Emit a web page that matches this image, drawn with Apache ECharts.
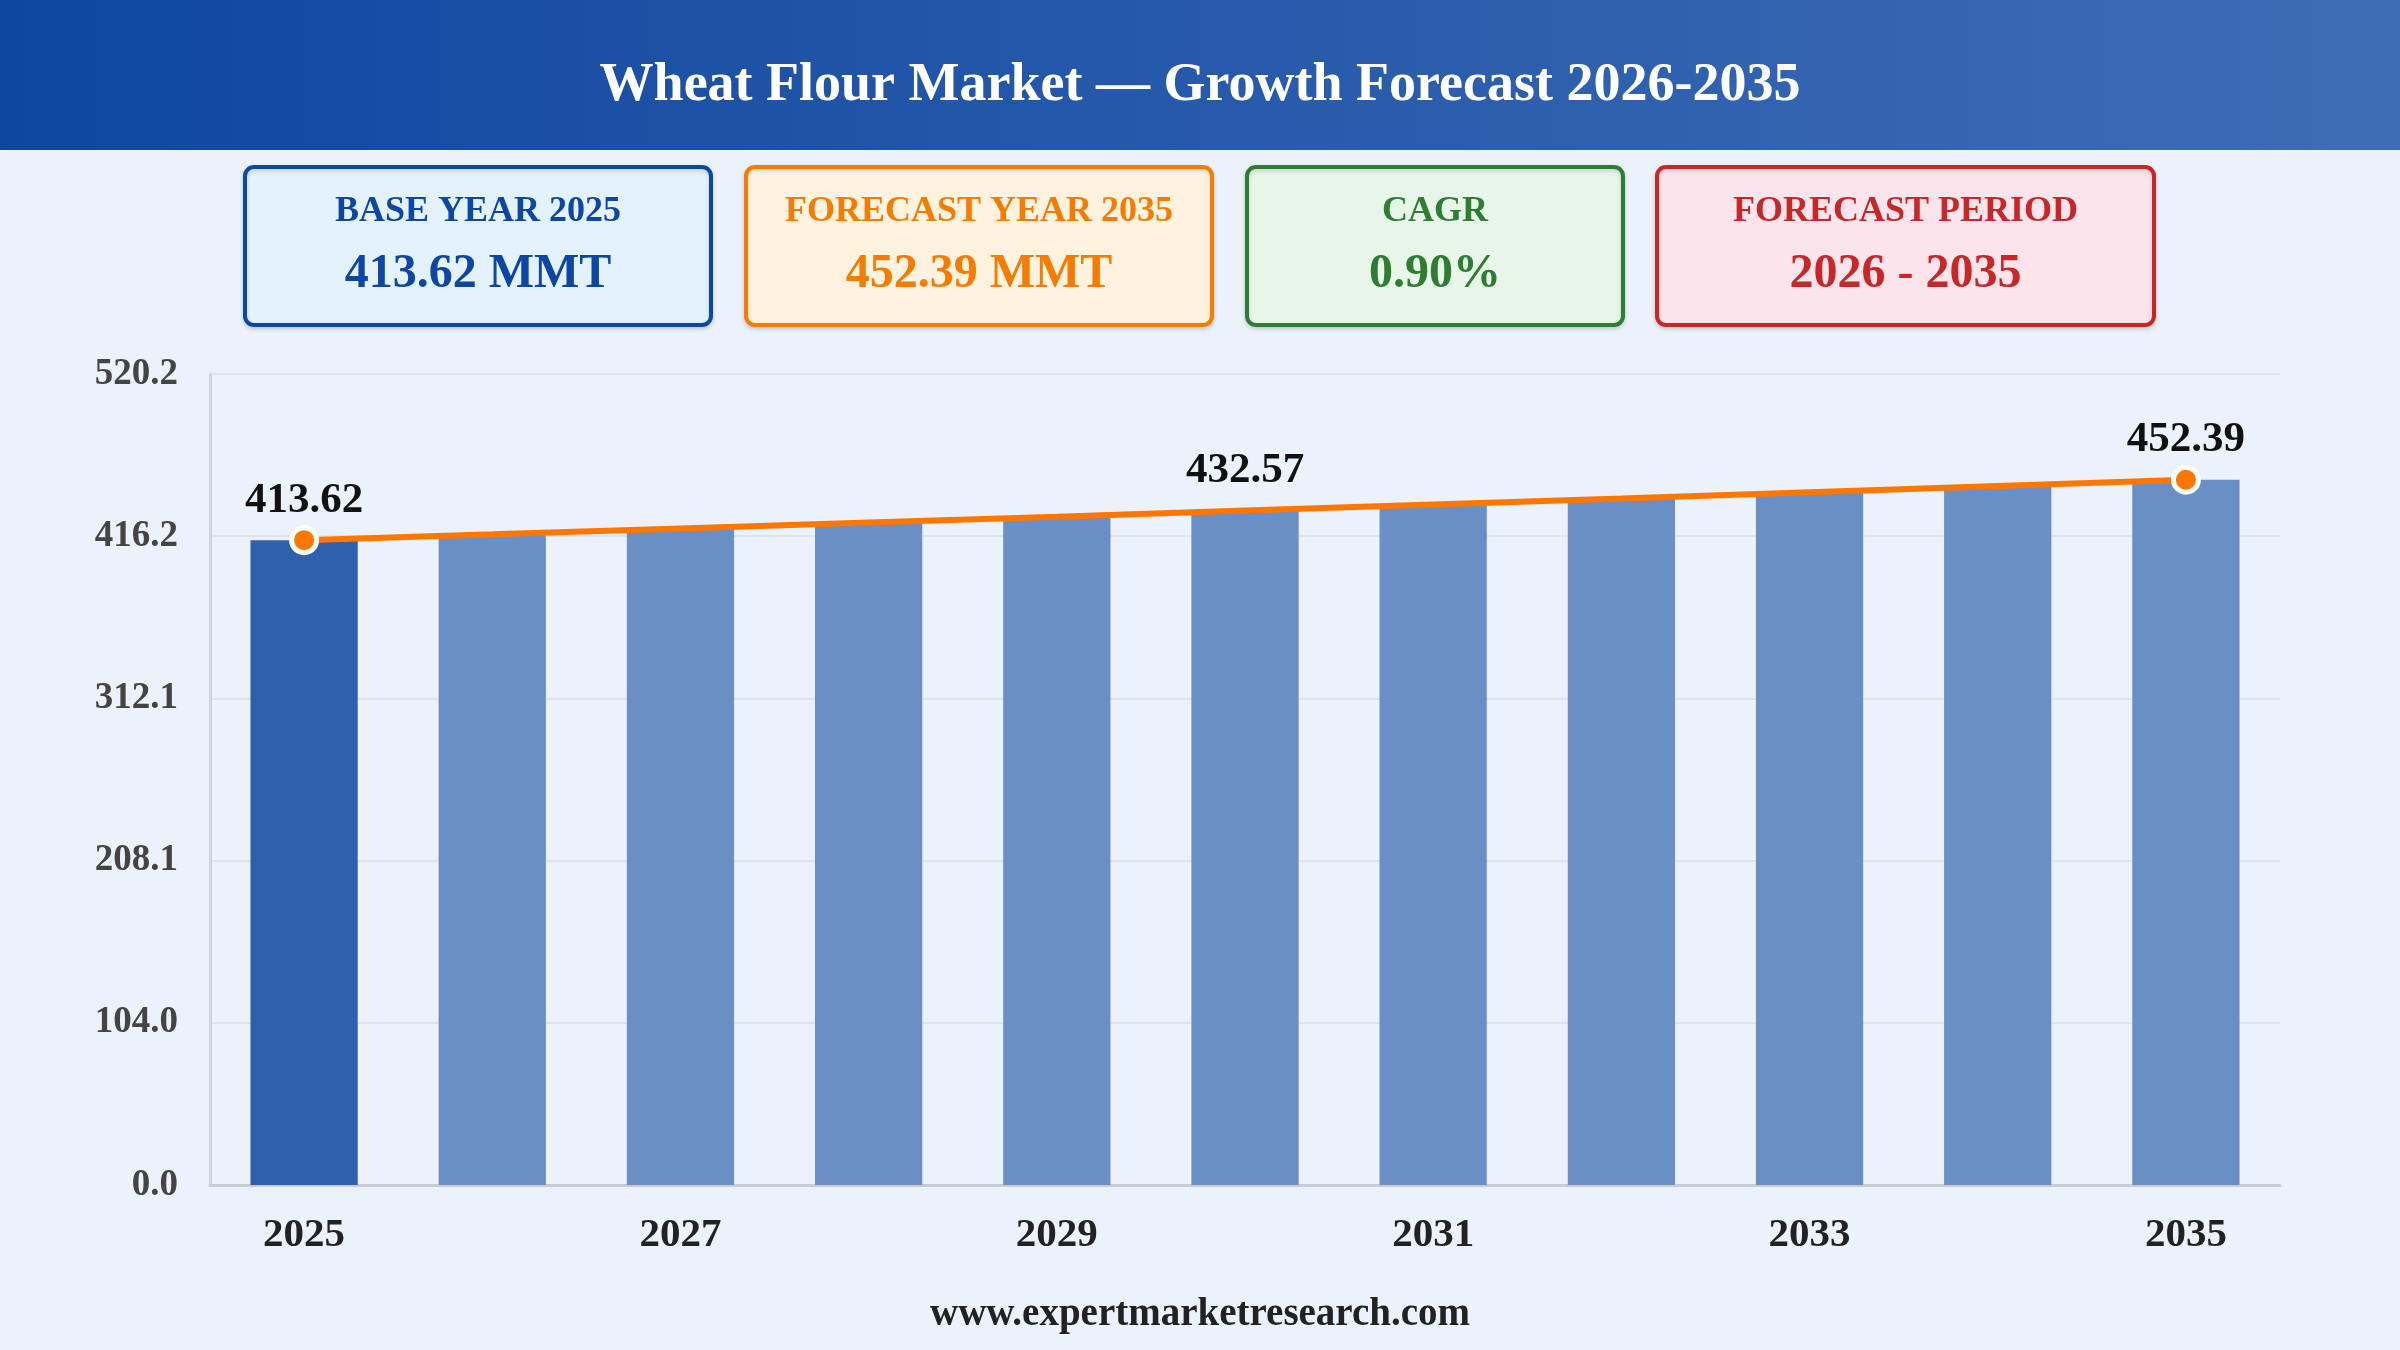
<!DOCTYPE html>
<html>
<head>
<meta charset="utf-8">
<title>Wheat Flour Market</title>
<script src="https://cdn.jsdelivr.net/npm/echarts@6/dist/echarts.min.js"></script>
<style>
  html, body { margin: 0; padding: 0; background: #ebf2fb; }
  #main { width: 2400px; height: 1350px; }
</style>
</head>
<body>
<div id="main"></div>
<script type="text/javascript">
    // data
    var years = ['2025', '2026', '2027', '2028', '2029', '2030', '2031', '2032', '2033', '2034', '2035'];
    var volumes = [413.62, 417.34, 421.10, 424.89, 428.71, 432.57, 436.46, 440.39, 444.35, 448.35, 452.39];
    var markerIdx = [0, 10];
    var labelIdx = [0, 5, 10];
    var yMax = 520.2;

    var cardTitles = ['BASE YEAR 2025', 'FORECAST YEAR 2035', 'CAGR', 'FORECAST PERIOD'];
    var cardValues = ['413.62 MMT', '452.39 MMT', '0.90%', '2026 - 2035'];

    var serif = '"Liberation Serif", "Times New Roman", serif';

    // card boxes: [x, width, border, fill]
    var cardStyle = [
        [245, 466, '#0d47a1', '#e3f2fd'],
        [746, 466, '#f57c00', '#fff3e0'],
        [1247, 376, '#2e7d32', '#e8f5e9'],
        [1657, 497, '#c62828', '#fce4ec']
    ];

    var graphics = [{
        type: 'rect',
        shape: { x: 0, y: 0, width: 2400, height: 150 },
        style: {
            fill: new echarts.graphic.LinearGradient(0, 0, 1, 0, [
                { offset: 0, color: '#0f46a0' },
                { offset: 1, color: '#3e6db5' }
            ])
        },
        z: 0
    }];

    cardStyle.forEach(function (c, i) {
        graphics.push({
            type: 'rect',
            shape: { x: c[0], y: 167, width: c[1], height: 158, r: 9 },
            style: {
                fill: c[3], stroke: c[2], lineWidth: 4,
                shadowBlur: 4, shadowOffsetY: 2, shadowColor: 'rgba(0,0,0,0.15)'
            },
            z: 1
        });
        graphics.push({
            type: 'text',
            x: c[0] + c[1] / 2, y: 212,
            style: {
                text: cardTitles[i], fill: c[2], align: 'center', verticalAlign: 'middle',
                font: 'bold 36px ' + serif
            },
            z: 2
        });
        graphics.push({
            type: 'text',
            x: c[0] + c[1] / 2, y: 275,
            style: {
                text: cardValues[i], fill: c[2], align: 'center', verticalAlign: 'middle',
                font: 'bold 48px ' + serif
            },
            z: 2
        });
    });

    graphics.push({
        type: 'text',
        x: 1200, y: 1315,
        style: {
            text: 'www.expertmarketresearch.com', fill: '#222', align: 'center', verticalAlign: 'middle',
            font: 'bold 39px ' + serif
        }
    });

    var barData = volumes.map(function (v, i) {
        return { value: v, itemStyle: { color: i === 0 ? '#2e60ae' : '#6a8fc4' } };
    });

    var lineData = volumes.map(function (v, i) {
        var hasMarker = markerIdx.indexOf(i) > -1;
        return {
            value: v,
            symbolSize: hasMarker ? 25 : 0,
            label: { show: labelIdx.indexOf(i) > -1, distance: hasMarker ? 3 : 18 }
        };
    });

    var myChart = echarts.init(document.getElementById('main'));

    var option = {
        backgroundColor: '#ebf2fb',
        animation: false,
        title: {
            text: 'Wheat Flour Market \u2014 Growth Forecast 2026-2035',
            left: 'center',
            top: 54,
            textStyle: { color: '#fff', fontFamily: serif, fontWeight: 'bold', fontSize: 54 }
        },
        graphic: graphics,
        grid: { left: 210, right: 120, top: 374, bottom: 165 },
        xAxis: {
            type: 'category',
            data: years,
            axisLine: { lineStyle: { color: '#c8cdd4', width: 3 } },
            axisTick: { show: false },
            axisLabel: {
                interval: 1,
                margin: 30,
                color: '#222',
                fontFamily: serif,
                fontWeight: 'bold',
                fontSize: 41
            }
        },
        yAxis: {
            type: 'value',
            min: 0,
            max: yMax,
            interval: yMax / 5,
            axisLine: { show: true, lineStyle: { color: '#d0d4da', width: 3 } },
            splitLine: { lineStyle: { color: '#dde3ea', width: 2 } },
            axisLabel: {
                margin: 32,
                color: '#444',
                fontFamily: serif,
                fontWeight: 'bold',
                fontSize: 37,
                formatter: function (v) { return v.toFixed(1); }
            }
        },
        series: [{
            type: 'bar',
            data: barData,
            barWidth: '57%',
            z: 2
        }, {
            type: 'line',
            data: lineData,
            symbol: 'circle',
            lineStyle: { color: '#ff7600', width: 6 },
            itemStyle: { color: '#ff7600', borderColor: '#fff', borderWidth: 5 },
            label: {
                position: 'top',
                color: '#111',
                fontFamily: serif,
                fontWeight: 'bold',
                fontSize: 43,
                formatter: function (p) { return p.value.toFixed(2); }
            },
            z: 5
        }]
    };
    myChart.setOption(option);
</script>
</body>
</html>
